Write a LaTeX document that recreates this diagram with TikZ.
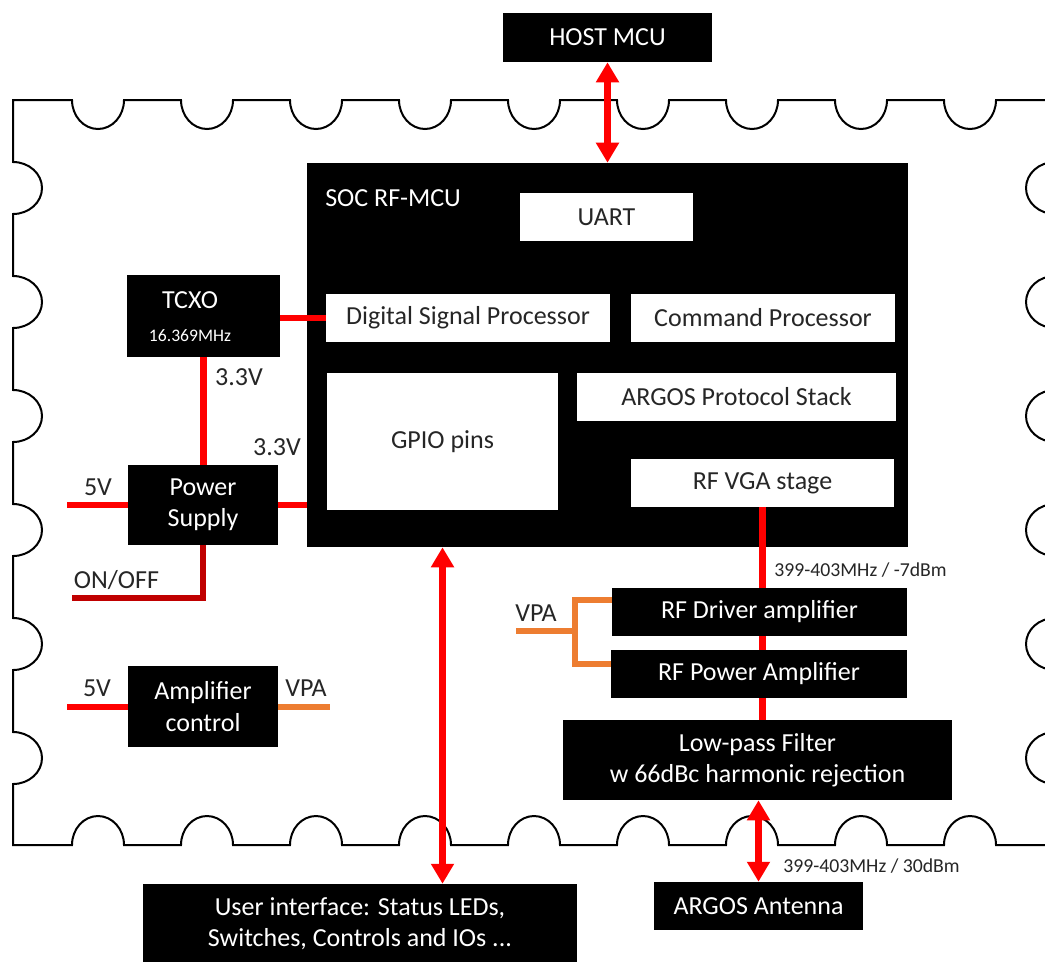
\documentclass[tikz,border=0pt]{standalone}
\usepackage{fontspec}
\setmainfont{Carlito}
\usetikzlibrary{arrows.meta}
\definecolor{sigred}{RGB}{255,0,0}
\definecolor{ctrlred}{RGB}{192,0,0}
\definecolor{vpaorange}{RGB}{237,125,49}
\newcommand{\mainfs}{\fontsize{19.5}{23.4}\selectfont}
\newcommand{\freqfs}{\fontsize{14.8}{17.8}\selectfont}
\newcommand{\xtalfs}{\fontsize{13.2}{15.8}\selectfont}

\begin{document}
\begin{tikzpicture}[
x=0.75pt, y=-0.75pt,
blk/.style={
  fill=black,
  text=white,
  font=\mainfs,
  align=center,
  inner sep=0pt
},
wblk/.style={
  fill=white,
  text=black!85,
  font=\mainfs,
  inner sep=0pt
},
lbl/.style={
  text=black!85,
  font=\mainfs,
  inner sep=0pt
},
freq/.style={
  text=black!85,
  font=\freqfs,
  inner sep=0pt,
  anchor=base west
},
sig/.style={draw=sigred, line width=5pt},
link/.style={sig, >={Triangle[length=15pt,width=16.5pt]}, <->},
stamp/.style={draw=black, line width=1.5pt}
]
\path[use as bounding box, fill=white] (0,0) rectangle (1045,961);

% stamp outline of the module
\draw[stamp] (13,100)
  \foreach \xc in {98,207,...,970} {
    -- (\xc-26,100) arc[start angle=180, end angle=0, x radius=26, y radius=29] }
  -- (1055,100)
  \foreach \yc in {188,302,...,758} {
    -- (1055,\yc-26) arc[start angle=270, end angle=90, x radius=29, y radius=26] }
  -- (1055,845)
  \foreach \xc in {970,861,...,98} {
    -- (\xc+26,845) arc[start angle=0, end angle=-180, x radius=26, y radius=29] }
  -- (13,845)
  \foreach \yc in {758,644,...,188} {
    -- (13,\yc+26) arc[start angle=90, end angle=-90, x radius=29, y radius=26] }
  -- cycle;

\node[blk, minimum width=156.75pt, minimum height=36.75pt]
  (hostmcu) at (607.5,37.5) {HOST MCU};

% SoC
\node[blk, minimum width=450.75pt, minimum height=288pt]
  (soc) at (607.5,355) {};
\node[lbl, text=white, anchor=west]
  (soclbl) at (325,198) {SOC RF-MCU};
\node[wblk, minimum width=129.75pt, minimum height=36pt]
  (uart) at (606.5,217) {UART};
\node[wblk, minimum width=213pt, minimum height=36pt]
  (dsp) at (468,318) {Digital Signal Processor};
\node[wblk, minimum width=198pt, minimum height=36pt]
  (cmdp) at (763,318) {Command Processor};
\node[wblk, minimum width=173.25pt, minimum height=102.75pt]
  (gpio) at (442.5,441.5) {GPIO pins};
\node[wblk, minimum width=239.25pt, minimum height=36pt]
  (argos) at (736.5,397) {ARGOS Protocol Stack};
\node[wblk, minimum width=197.25pt, minimum height=36pt]
  (rfvga) at (762.5,483) {RF VGA stage};

% clock and supplies
\node[blk, minimum width=114.75pt, minimum height=61.5pt]
  (tcxo) at (203.5,316) {};
\node[lbl, text=white] (tcxoname) at (190,300) {TCXO};
\node[lbl, text=white, font=\xtalfs] (tcxofreq) at (190,336) {16.369MHz};
\node[blk, minimum width=112.5pt, minimum height=60pt]
  (ps) at (203,505) {Power\\Supply};
\node[blk, minimum width=112.5pt, minimum height=60.75pt]
  (ampc) at (203,706.5) {Amplifier\\control};

% RF front end
\node[blk, minimum width=221.25pt, minimum height=36pt]
  (rfdrv) at (759.5,612) {RF Driver amplifier};
\node[blk, minimum width=222pt, minimum height=36pt]
  (rfpa) at (759,674) {RF Power Amplifier};
\node[blk, minimum width=291.75pt, minimum height=60pt]
  (lpf) at (757.5,760) {Low-pass Filter\\w 66dBc harmonic rejection};
\node[blk, minimum width=156.75pt, minimum height=36pt]
  (ant) at (758.5,906) {ARGOS Antenna};
\node[blk, minimum width=325.5pt, minimum height=60pt]
  (ui) at (360,924) {User interface: Status LEDs,\\Switches, Controls and IOs ...};

% labels
\node[lbl] (v33xtal) at (239,377.5) {3.3V};
\node[lbl] (v33soc) at (277,447) {3.3V};
\node[lbl] (v5ps) at (98,487) {5V};
\node[lbl, anchor=base] (onoff) at (116.5,588) {ON/OFF};
\node[lbl] (v5amp) at (97,688) {5V};
\node[lbl] (vpaout) at (306,688) {VPA};
\node[lbl] (vpain) at (536,613) {VPA};
\node[freq] (fvga) at (774,576) {399-403MHz / -7dBm};
\node[freq] (fant) at (783,872) {399-403MHz / 30dBm};

\coordinate (ps5v) at (67,505);
\coordinate (amp5v) at (67,707);
\coordinate (vpaend) at (330,707);
\coordinate (onoffend) at (72,598);
\coordinate (vpastub) at (516,631);
\coordinate (vpatop) at (575,600);
\coordinate (vpabot) at (575,664);

\draw[sig] (tcxo.east |- dsp.west) -- (dsp.west);
\draw[sig] (tcxo.south) -- (tcxo.south |- ps.north);
\draw[sig] (ps.west) -- (ps5v);
\draw[sig] (ps.east) -- (ps.east -| soc.west);
\draw[sig, draw=ctrlred] (ps.south) -- (ps.south |- onoffend) -- (onoffend);
\draw[sig] (amp5v -| ampc.west) -- (amp5v);
\draw[sig, draw=vpaorange] (vpaend -| ampc.east) -- (vpaend);

\draw[sig] (rfvga.south) -- (rfvga.south |- rfdrv.north);
\draw[sig] (rfvga.south |- rfdrv.south) -- (rfvga.south |- rfpa.north);
\draw[sig] (rfvga.south |- rfpa.south) -- (rfvga.south |- lpf.north);

\draw[sig, draw=vpaorange] (vpatop -| rfdrv.west) -- (vpatop) -- (vpabot) -- (vpabot -| rfpa.west);
\draw[sig, draw=vpaorange] (vpastub) -- (vpastub -| vpatop);

\draw[link] (hostmcu.south) -- (soc.north);
\draw[link] (gpio.south |- soc.south) -- (gpio.south |- ui.north);
\draw[link] (ant.north |- lpf.south) -- (ant.north);
\end{tikzpicture}
\end{document}
